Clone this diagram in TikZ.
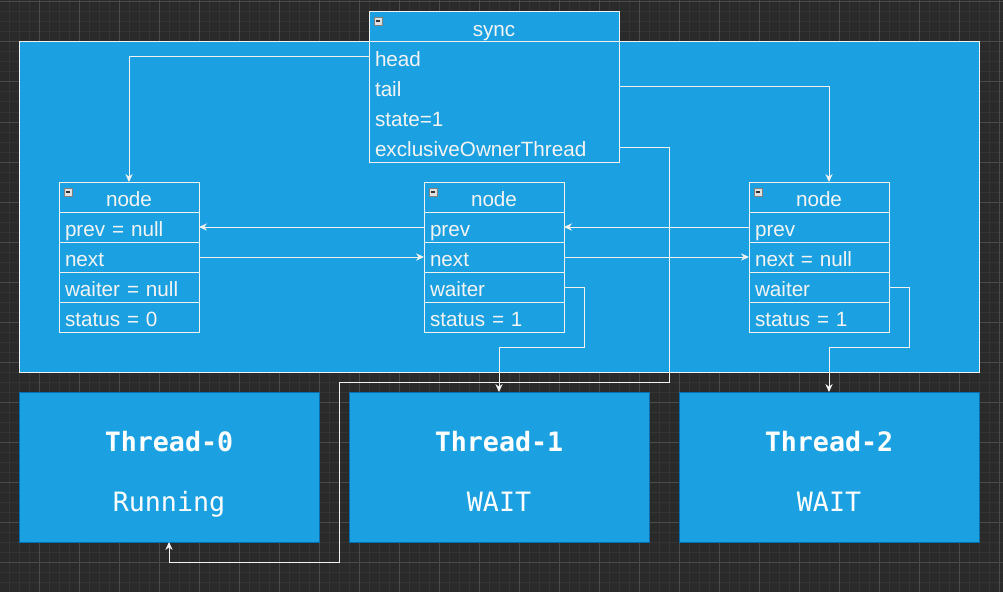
\documentclass[tikz,border=0pt]{standalone}
\usepackage{fontspec}
\setmainfont{Liberation Sans}
\newfontfamily\monof{DejaVu Sans Mono}
\usetikzlibrary{arrows.meta}
\definecolor{bgc}{HTML}{2A2A2A}
\definecolor{gminor}{HTML}{343434}
\definecolor{gmajor}{HTML}{4A4A4A}
\definecolor{blu}{HTML}{1BA1E2}
\definecolor{tbord}{HTML}{006EAF}
\definecolor{lnc}{HTML}{F2F2F2}
\definecolor{txt}{HTML}{F4F4F4}
\newcommand\cellfont{\fontsize{15.5}{18}\selectfont}
\begin{document}
\begin{tikzpicture}[x=0.75pt,y=-0.75pt,
  ln/.style={draw=lnc, line width=0.75pt},
  arr/.style={ln, -{Stealth[length=6pt,width=5.5pt]}},
  box/.style={rectangle, anchor=north west, outer sep=0pt, inner sep=0pt},
  cell/.style={box, draw=lnc, fill=blu, line width=0.75pt, minimum height=22.5pt,
    text=txt, font=\cellfont, text height=14.5pt, text depth=0pt},
  rowcell/.style={cell, minimum width=#1, text width=#1-9pt, inner xsep=4.5pt, align=left},
  head/.style={cell, minimum width=#1},
  plain/.style={box, minimum height=22.5pt, minimum width=187.5pt, text width=178.5pt,
    inner xsep=4.5pt, align=left, text=txt, font=\cellfont, text height=14.5pt, text depth=0pt},
  minusbox/.style={box, draw=gray, fill=black!12, line width=0.5pt, minimum size=6pt,
    path picture={\draw[black!80, line width=0.9pt]
      ([xshift=1.3pt]path picture bounding box.west) -- ([xshift=-1.3pt]path picture bounding box.east);}},
  thread/.style={box, draw=tbord, fill=blu, line width=0.75pt, minimum width=225pt, minimum height=112.5pt},
  ttitle/.style={anchor=base, text=white, font=\monof\bfseries\fontsize{20}{22}\selectfont},
  tstate/.style={anchor=base, text=white, font=\monof\fontsize{20}{22}\selectfont}
]
\useasboundingbox (0,0) rectangle (1003,592);
% background and grid
\fill[bgc] (0,0) rectangle (1003,592);
\foreach \i in {-1,9,...,1003} \draw[gminor, line width=0.75pt] (\i,0) -- (\i,592);
\foreach \j in {2,12,...,592} \draw[gminor, line width=0.75pt] (0,\j) -- (1003,\j);
\foreach \i in {39,79,...,1003} \draw[gmajor, line width=0.75pt] (\i,0) -- (\i,592);
\foreach \j in {2,42,...,592} \draw[gmajor, line width=0.75pt] (0,\j) -- (1003,\j);

% container
\node[box, draw=lnc, fill=blu, line width=0.75pt, minimum width=720pt, minimum height=247.5pt] (cont) at (19,42) {};

% threads
\node[thread] (t0) at (19,392) {};
\node[thread] (t1) at (349,392) {};
\node[thread] (t2) at (679,392) {};
\node[ttitle] (t0a) at (169,451.5) {Thread-0};
\node[tstate] (t0b) at (169,511.5) {Running};
\node[ttitle] (t1a) at (499,451.5) {Thread-1};
\node[tstate] (t1b) at (499,511.5) {WAIT};
\node[ttitle] (t2a) at (829,451.5) {Thread-2};
\node[tstate] (t2b) at (829,511.5) {WAIT};

% sync box
\node[head=187.5pt] (s) at (369,12) {sync};
\node[box, draw=lnc, fill=blu, line width=0.75pt, minimum width=187.5pt, minimum height=90pt] (sb) at (369,42) {};
\node[plain] (sh) at (369,42) {head};
\node[plain] (st) at (369,72) {tail};
\node[plain] (ss) at (369,102) {state=1};
\node[plain] (se) at (369,132) {exclusiveOwnerThread};
\node[minusbox] (sm) at (374,17) {};

% list nodes
\foreach \nm/\x/\a/\b/\c/\d in {n0/59/prev = null/next/waiter = null/status = 0,
                                 n1/424/prev/next/waiter/status = 1,
                                 n2/749/prev/next = null/waiter/status = 1}{
  \node[head=105pt] (\nm) at (\x,182) {node};
  \node[rowcell=105pt] (\nm a) at (\x,212) {\a};
  \node[rowcell=105pt] (\nm b) at (\x,242) {\b};
  \node[rowcell=105pt] (\nm c) at (\x,272) {\c};
  \node[rowcell=105pt] (\nm d) at (\x,302) {\d};
  \node[minusbox] (\nm m) at (\x+5,188) {};
}

% connectors
\draw[arr] (sh.west) -| (n0.north);
\draw[arr] (st.east) -| ([xshift=7.5pt]n2.north);
\draw[arr] (se.east) -- ++(50,0) -- ++(0,235) -- ++(-330,0) -- ++(0,180) -| (t0.south);
\draw[arr] (n2a.west) -- (n1a.east);
\draw[arr] (n1a.west) -- (n0a.east);
\draw[arr] (n0b.east) -- (n1b.west);
\draw[arr] (n1b.east) -- (n2b.west);
\draw[arr] (n1c.east) -- ++(20,0) -- ++(0,60) -| (t1.north);
\draw[arr] (n2c.east) -- ++(20,0) -- ++(0,60) -| (t2.north);
\end{tikzpicture}
\end{document}
